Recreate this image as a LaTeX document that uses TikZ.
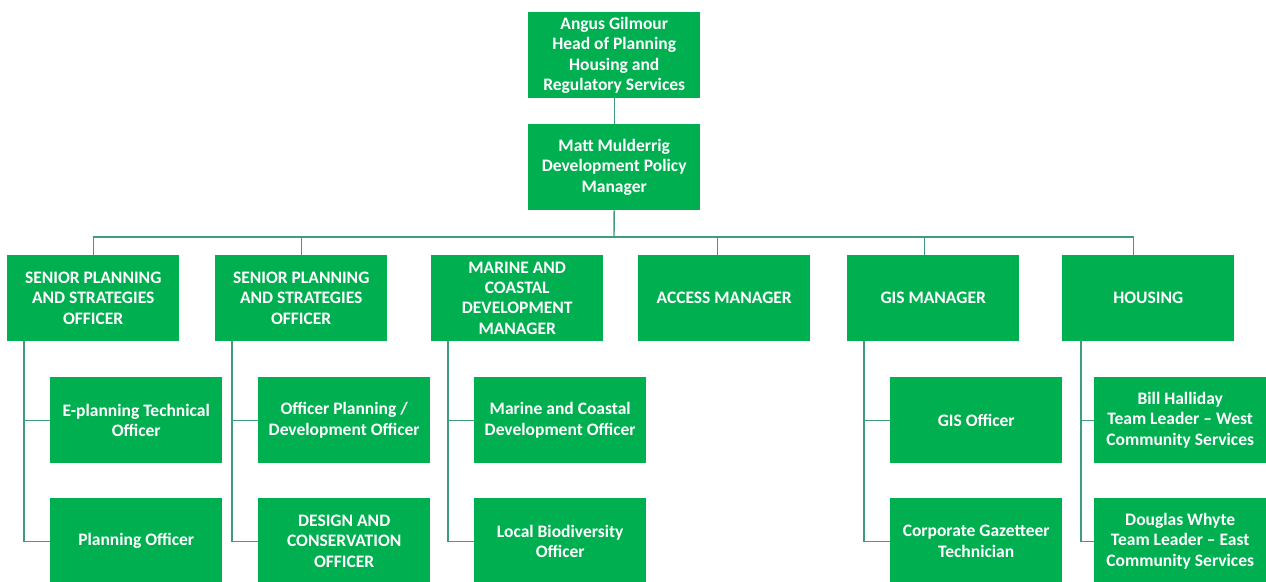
\documentclass[tikz,border=0pt]{standalone}
\usepackage{fontspec}
\setmainfont{Carlito}
\definecolor{boxgreen}{HTML}{00B050}
\definecolor{linegreen}{HTML}{3F9C7A}
\begin{document}
\begin{tikzpicture}[x=1pt,y=-1pt,
  box/.style={draw=none,fill=boxgreen,text=white,anchor=north west,
    minimum width=172pt,minimum height=86pt,inner sep=0pt,align=center,
    font=\fontsize{17.5}{20.3}\selectfont\bfseries},
  conn/.style={draw=linegreen,line width=1.4pt}]
\useasboundingbox[fill=white] (0,0) rectangle (1266,581);
\node[box] (top) at (528,12) {Angus Gilmour\\Head of Planning\\Housing and\\Regulatory Services};
\node[box] (matt) at (528,124) {Matt Mulderrig\\Development Policy\\Manager};
\node[box] (b1) at (7,255) {SENIOR PLANNING\\AND STRATEGIES\\OFFICER};
\node[box] (b2) at (215,255) {SENIOR PLANNING\\AND STRATEGIES\\OFFICER};
\node[box] (b3) at (431,255) {MARINE AND\\COASTAL\\DEVELOPMENT\\MANAGER};
\node[box] (b4) at (638,255) {ACCESS MANAGER};
\node[box] (b5) at (847,255) {GIS MANAGER};
\node[box] (b6) at (1062,255) {HOUSING};
\node[box] (c11) at (50,377) {E-planning Technical\\Officer};
\node[box] (c12) at (50,498) {Planning Officer};
\node[box] (c21) at (258,377) {Officer Planning /\\Development Officer};
\node[box] (c22) at (258,498) {DESIGN AND\\CONSERVATION\\OFFICER};
\node[box] (c31) at (474,377) {Marine and Coastal\\Development Officer};
\node[box] (c32) at (474,498) {Local Biodiversity\\Officer};
\node[box] (c51) at (890,377) {GIS Officer};
\node[box] (c52) at (890,498) {Corporate Gazetteer\\Technician};
\node[box] (c61) at (1094,377) {Bill Halliday\\Team Leader -- West\\Community Services};
\node[box] (c62) at (1094,498) {Douglas Whyte\\Team Leader -- East\\Community Services};
% hierarchy
\coordinate (bus) at (614,237);
\draw[conn] (top.south) -- (matt.north);
\draw[conn] (matt.south) -- (bus);
\draw[conn] (b1.north) |- (bus);
\draw[conn] (b2.north) -- (b2.north |- bus);
\draw[conn] ([xshift=-7pt]b4.north) -- ([xshift=-7pt]b4.north |- bus);
\draw[conn] ([xshift=-9pt]b5.north) -- ([xshift=-9pt]b5.north |- bus);
\draw[conn] ([xshift=-15pt]b6.north) |- (bus);
% children
\draw[conn] ([xshift=17pt]b1.south west) |- (c12.west);
\draw[conn] ([xshift=17pt]b1.south west |- c11.west) -- (c11.west);
\draw[conn] ([xshift=17pt]b2.south west) |- (c22.west);
\draw[conn] ([xshift=17pt]b2.south west |- c21.west) -- (c21.west);
\draw[conn] ([xshift=17pt]b3.south west) |- (c32.west);
\draw[conn] ([xshift=17pt]b3.south west |- c31.west) -- (c31.west);
\draw[conn] ([xshift=17pt]b5.south west) |- (c52.west);
\draw[conn] ([xshift=17pt]b5.south west |- c51.west) -- (c51.west);
\draw[conn] ([xshift=19pt]b6.south west) |- (c62.west);
\draw[conn] ([xshift=19pt]b6.south west |- c61.west) -- (c61.west);
\end{tikzpicture}
\end{document}
